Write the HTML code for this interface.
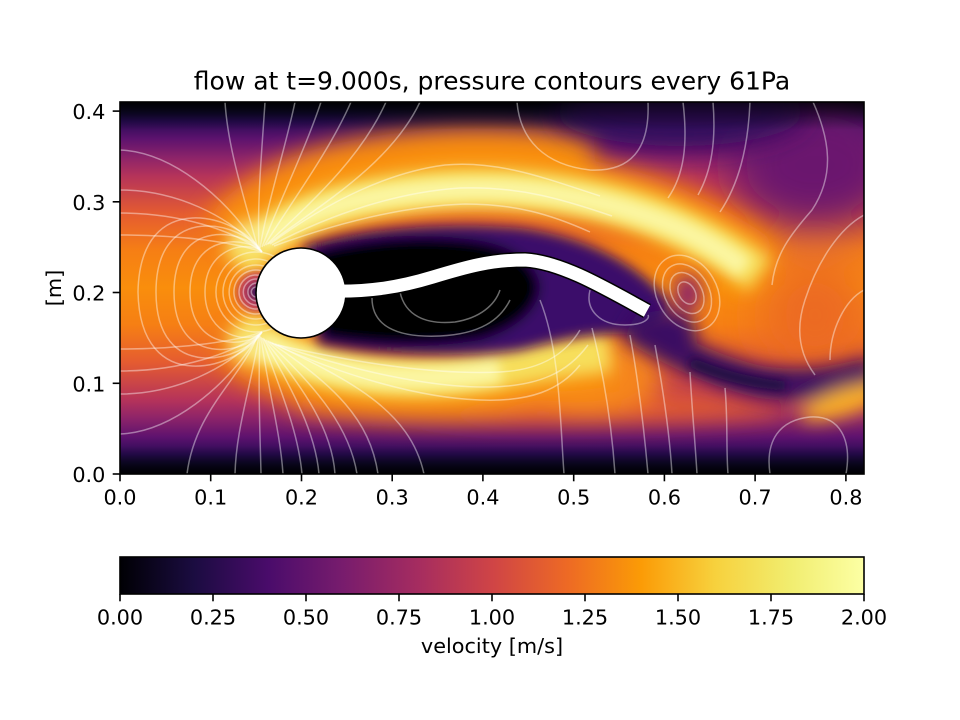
<!DOCTYPE html>
<html><head><meta charset="utf-8">
<style>html,body{margin:0;padding:0;background:#fff}svg{display:block}</style>
</head><body>
<svg xmlns="http://www.w3.org/2000/svg" width="960" height="720" viewBox="0 0 960 720">
<defs>
<clipPath id="ax"><rect x="120" y="102" width="744" height="372"/></clipPath>
<linearGradient id="base" gradientUnits="userSpaceOnUse" x1="0" y1="102" x2="0" y2="474">
<stop offset="0" stop-color="#000004"/>
<stop offset="0.027" stop-color="#110a30"/>
<stop offset="0.051" stop-color="#280b54"/>
<stop offset="0.099" stop-color="#5d126e"/>
<stop offset="0.151" stop-color="#8e2469"/>
<stop offset="0.199" stop-color="#b5335a"/>
<stop offset="0.301" stop-color="#e55c30"/>
<stop offset="0.401" stop-color="#f67f14"/>
<stop offset="0.5" stop-color="#f98e0c"/>
<stop offset="0.599" stop-color="#f67f14"/>
<stop offset="0.699" stop-color="#e55c30"/>
<stop offset="0.801" stop-color="#b5335a"/>
<stop offset="0.849" stop-color="#8e2469"/>
<stop offset="0.901" stop-color="#5d126e"/>
<stop offset="0.949" stop-color="#280b54"/>
<stop offset="0.973" stop-color="#110a30"/>
<stop offset="1" stop-color="#000004"/>
</linearGradient>
<linearGradient id="cb" x1="0" y1="0" x2="1" y2="0">
<stop offset="0" stop-color="#000004"/>
<stop offset="0.1" stop-color="#1b0c41"/>
<stop offset="0.2" stop-color="#4a0c6b"/>
<stop offset="0.3" stop-color="#781c6d"/>
<stop offset="0.4" stop-color="#a52c60"/>
<stop offset="0.5" stop-color="#cf4446"/>
<stop offset="0.6" stop-color="#ed6925"/>
<stop offset="0.7" stop-color="#fb9b06"/>
<stop offset="0.8" stop-color="#f7d13d"/>
<stop offset="0.9" stop-color="#f1ed6f"/>
<stop offset="1" stop-color="#fcffa4"/>
</linearGradient>
<linearGradient id="wt" gradientUnits="userSpaceOnUse" x1="0" y1="102" x2="0" y2="130">
<stop offset="0" stop-color="#000004" stop-opacity="0.7"/>
<stop offset="1" stop-color="#000004" stop-opacity="0"/>
</linearGradient>
<linearGradient id="wb" gradientUnits="userSpaceOnUse" x1="0" y1="474" x2="0" y2="446">
<stop offset="0" stop-color="#000004" stop-opacity="0.7"/>
<stop offset="1" stop-color="#000004" stop-opacity="0"/>
</linearGradient>
<filter id="f22" filterUnits="userSpaceOnUse" x="0" y="0" width="960" height="720"><feGaussianBlur stdDeviation="22"/></filter>
<filter id="f14" filterUnits="userSpaceOnUse" x="0" y="0" width="960" height="720"><feGaussianBlur stdDeviation="14"/></filter>
<filter id="f12" filterUnits="userSpaceOnUse" x="0" y="0" width="960" height="720"><feGaussianBlur stdDeviation="12"/></filter>
<filter id="f9" filterUnits="userSpaceOnUse" x="0" y="0" width="960" height="720"><feGaussianBlur stdDeviation="9"/></filter>
<filter id="f8" filterUnits="userSpaceOnUse" x="0" y="0" width="960" height="720"><feGaussianBlur stdDeviation="8"/></filter>
<filter id="f6" filterUnits="userSpaceOnUse" x="0" y="0" width="960" height="720"><feGaussianBlur stdDeviation="6"/></filter>
<filter id="f5" filterUnits="userSpaceOnUse" x="0" y="0" width="960" height="720"><feGaussianBlur stdDeviation="5"/></filter>
<filter id="f4" filterUnits="userSpaceOnUse" x="0" y="0" width="960" height="720"><feGaussianBlur stdDeviation="4"/></filter>
</defs>
<rect width="960" height="720" fill="#fff"/>

<g clip-path="url(#ax)">
  <rect x="120" y="102" width="744" height="372" fill="url(#base)"/>
  <g filter="url(#f22)">
    <ellipse cx="815" cy="165" rx="85" ry="65" fill="#6a176e"/>
    <ellipse cx="815" cy="315" rx="55" ry="60" fill="#ec6a24"/>
  </g>
  <g filter="url(#f12)">
    <ellipse cx="540" cy="408" rx="250" ry="16" fill="#e8602c"/>
    <ellipse cx="590" cy="375" rx="70" ry="40" fill="#f5851a"/>
    <path transform="translate(0,-18)" d="M 238,265 C 258,238 292,216 340,204 C 395,191 455,186 510,189 C 545,191 570,193 590,196" fill="none" stroke="#f98e0c" stroke-width="84"/>
    <path transform="translate(0,-8)" d="M 560,193 C 610,200 650,212 680,228 C 710,242 735,256 760,275" fill="none" stroke="#f98e0c" stroke-width="58"/>
    <path transform="translate(0,10)" d="M 240,322 C 262,348 300,366 360,374 C 420,381 470,376 510,367 C 545,360 575,356 610,352" fill="none" stroke="#f98e0c" stroke-width="66"/>
  </g>
  <g filter="url(#f14)">
    <ellipse cx="680" cy="112" rx="125" ry="34" fill="#300b5c"/>
  </g>
  <g filter="url(#f8)">
    <path d="M 238,265 C 258,238 292,216 340,204 C 395,191 455,186 510,189 C 575,193 630,205 680,228 C 710,242 735,256 760,275" fill="none" stroke="#f7df5c" stroke-width="40"/>
    <path d="M 240,322 C 262,348 300,366 360,374 C 420,381 470,376 510,367 C 545,360 575,356 610,352" fill="none" stroke="#f7df5c" stroke-width="40"/>
    <ellipse cx="252" cy="236" rx="22" ry="16" fill="#f9e57a"/>
    <ellipse cx="252" cy="348" rx="22" ry="16" fill="#f9e57a"/>
  </g>
  <g filter="url(#f6)" fill="none" stroke="#fbf6a2">
    <path d="M 262,240 C 290,220 320,208 360,200 C 410,191 460,188 510,190 C 575,194 630,207 680,229 C 710,243 728,255 745,268" stroke-width="22"/>
    <path d="M 262,344 C 295,362 340,372 380,376 C 420,379 460,378 500,370" stroke-width="24"/>
  </g>
  <g filter="url(#f6)">
    <path d="M 303,246 C 360,226 450,222 520,228 C 585,236 635,262 668,300 C 674,320 655,336 628,334 C 590,332 560,340 520,350 C 460,358 380,356 318,344 Z" fill="#3b0f6a"/>
    <path d="M 316,250 C 370,236 430,234 475,240 C 515,246 535,262 540,285 C 540,310 515,330 480,340 C 430,348 370,346 322,338 Z" fill="#000004"/>
  </g>
  <g filter="url(#f9)">
    <ellipse cx="665" cy="332" rx="32" ry="22" fill="#3d0a66"/>
    <path d="M 630,325 C 670,350 715,372 760,382 C 800,388 835,384 875,372" fill="none" stroke="#3a0a62" stroke-width="32"/>
    <ellipse cx="688" cy="293" rx="14" ry="19" fill="#8a236a"/>
    <ellipse cx="845" cy="402" rx="48" ry="13" transform="rotate(-18 845 402)" fill="#fbb124"/>
  </g>
  <g filter="url(#f5)">
    <path d="M 690,362 C 720,375 750,383 785,386" fill="none" stroke="#1a0a3c" stroke-width="10"/>
  </g>
  <g filter="url(#f4)">
    <circle cx="257" cy="292" r="20" fill="#c1405a"/>
    <circle cx="257" cy="292" r="9" fill="#2b0a56"/>
  </g>
  <rect x="120" y="102" width="744" height="28" fill="url(#wt)"/>
  <rect x="120" y="446" width="744" height="28" fill="url(#wb)"/>

  <g fill="none" stroke="#ffffff" stroke-opacity="0.42" stroke-width="1.5">
    <path d="M 256.3,287 A 5 5 0 1 0 256.3,297"/>
    <path d="M 256.9,283 A 9 9 0 1 0 256.9,301"/>
    <path d="M 257.9,279.1 A 13 13 0 1 0 257.9,304.9"/>
    <path d="M 259.2,275.3 A 17 17 0 1 0 259.2,308.7"/>
    <path d="M 261.4,270.7 A 22 22 0 1 0 261.4,313.3"/>
    <path d="M 264.1,266.2 A 27 27 0 1 0 264.1,317.8"/>
    <path d="M 268.1,261.3 A 33 33 0 1 0 268.1,322.7"/>
    <path d="M 273.8,256.2 A 40 40 0 1 0 273.8,327.8"/>
    <path d="M 262,252 C 250,240 205,246 205,292 C 205,338 250,344 262,332"/>
    <path d="M 262,252 C 248,236 190,232 190,292 C 190,352 248,348 262,332"/>
    <path d="M 262,252 C 246,230 174,216 174,292 C 174,368 246,354 262,332"/>
    <path d="M 262,252 C 243,222 156,200 156,292 C 156,384 243,362 262,332"/>
    <path d="M 262,252 C 240,215 140,185 138,292 C 140,399 240,369 262,332"/>
    <path d="M 120,150 C 170,152 225,195 259,249"/>
    <path d="M 120,190 C 175,190 228,215 260,250"/>
    <path d="M 120,213 C 180,213 232,230 261,251"/>
    <path d="M 120,235 C 185,235 236,243 262,252"/>
    <path d="M 120,434 C 170,432 225,389 259,335"/>
    <path d="M 120,394 C 175,394 228,369 260,334"/>
    <path d="M 120,371 C 180,371 232,354 261,333"/>
    <path d="M 120,349 C 185,349 236,341 262,332"/>
    <path d="M 258,249 C 245,200 228,150 225,102"/>
    <path d="M 259,249 C 257,200 262,150 265,102"/>
    <path d="M 260,248 C 268,200 285,150 295,102"/>
    <path d="M 262,247 C 280,200 305,150 321,102"/>
    <path d="M 264,246 C 293,200 330,150 351,102"/>
    <path d="M 266,245 C 308,205 360,160 386,102"/>
    <path d="M 268,244 C 320,205 390,165 420,102"/>
    <path d="M 270,244 C 330,200 390,172 445,165 C 500,160 550,180 600,196"/>
    <path d="M 272,245 C 335,212 400,192 460,188 C 520,186 565,200 612,216"/>
    <path d="M 274,246 C 340,222 405,206 465,204 C 515,204 550,214 590,232"/>
    <path d="M 517,102 C 520,140 545,165 590,170 C 630,172 650,150 648,102"/>
    <path d="M 258,335 C 240,380 195,410 187,474"/>
    <path d="M 259,336 C 250,390 236,430 235,474"/>
    <path d="M 260,336 C 258,390 260,430 261,474"/>
    <path d="M 261,337 C 268,390 280,430 283,474"/>
    <path d="M 262,338 C 280,390 298,430 302,474"/>
    <path d="M 263,338 C 292,390 315,430 319,474"/>
    <path d="M 264,339 C 305,390 332,430 335,474"/>
    <path d="M 266,340 C 320,390 350,430 357,474"/>
    <path d="M 268,341 C 335,385 370,420 378,474"/>
    <path d="M 270,342 C 350,380 410,410 424,474"/>
    <path d="M 272,343 C 340,375 420,398 480,400 C 530,402 560,390 580,365"/>
    <path d="M 275,344 C 350,370 430,388 490,387 C 540,386 568,372 588,345"/>
    <path d="M 278,345 C 360,364 440,375 500,372 C 540,370 565,355 580,330"/>
    <path d="M 372,298 C 372,325 395,338 440,336 C 480,334 500,320 510,300"/>
    <path d="M 400,292 C 405,315 425,325 455,322 C 480,318 495,305 500,290"/>
    <path d="M 540,300 C 560,350 560,420 564,474"/>
    <path d="M 592,328 C 605,380 612,430 615,474"/>
    <path d="M 630,335 C 640,390 645,440 648,474"/>
    <path d="M 655,345 C 665,400 670,440 672,474"/>
    <path d="M 690,372 C 692,410 695,440 697,474"/>
    <path d="M 725,388 C 728,420 726,450 728,474"/>
    <ellipse cx="687" cy="293" rx="8" ry="12" transform="rotate(-30 687 293)"/>
    <ellipse cx="687" cy="293" rx="15" ry="22" transform="rotate(-30 687 293)"/>
    <ellipse cx="687" cy="293" rx="22" ry="31" transform="rotate(-30 687 293)"/>
    <ellipse cx="687" cy="293" rx="30" ry="40" transform="rotate(-30 687 293)"/>
    <path d="M 590,290 C 585,310 600,325 625,325 C 645,325 650,318 648,315"/>
    <path d="M 813,102 C 830,140 835,175 812,210 C 790,235 775,255 772,285"/>
    <path d="M 750,102 C 748,150 738,185 720,212"/>
    <path d="M 713,102 C 716,140 712,170 698,195"/>
    <path d="M 683,102 C 688,145 684,175 668,198"/>
    <path d="M 864,215 C 840,228 818,260 805,300 C 795,330 800,355 815,375"/>
    <path d="M 864,290 C 845,300 830,330 830,360"/>
    <path d="M 770,474 C 765,440 780,420 810,417 C 840,415 852,440 846,474"/>
  </g>

  <path d="M 330,291 C 370,292 400,287 433,277 C 466,267 490,260 525,260 C 560,262 600,285 647,311" fill="none" stroke="#000" stroke-width="16"/>
  <circle cx="301" cy="293" r="45.8" fill="#000"/>
  <path d="M 330,291 C 370,292 400,287 433,277 C 466,267 490,260 525,260 C 560,262 600,285 647,311" fill="none" stroke="#fff" stroke-width="13"/>
  <circle cx="301" cy="293" r="44.2" fill="#fff"/>
</g>

<rect x="120" y="102" width="744" height="372" fill="none" stroke="#000" stroke-width="1.6"/>
<g stroke="#000" stroke-width="1.6">
  <line x1="120" y1="474" x2="120" y2="481.3"/>
  <line x1="210.7" y1="474" x2="210.7" y2="481.3"/>
  <line x1="301.5" y1="474" x2="301.5" y2="481.3"/>
  <line x1="392.2" y1="474" x2="392.2" y2="481.3"/>
  <line x1="482.9" y1="474" x2="482.9" y2="481.3"/>
  <line x1="573.7" y1="474" x2="573.7" y2="481.3"/>
  <line x1="664.4" y1="474" x2="664.4" y2="481.3"/>
  <line x1="755.1" y1="474" x2="755.1" y2="481.3"/>
  <line x1="845.9" y1="474" x2="845.9" y2="481.3"/>
  <line x1="112.7" y1="474" x2="120" y2="474"/>
  <line x1="112.7" y1="383.3" x2="120" y2="383.3"/>
  <line x1="112.7" y1="292.5" x2="120" y2="292.5"/>
  <line x1="112.7" y1="201.8" x2="120" y2="201.8"/>
  <line x1="112.7" y1="111.1" x2="120" y2="111.1"/>
</g>
<g font-family="'DejaVu Sans','Liberation Sans',sans-serif" font-size="20.8" fill="#000">
  <g text-anchor="middle">
    <text x="120" y="504.4">0.0</text>
    <text x="210.7" y="504.4">0.1</text>
    <text x="301.5" y="504.4">0.2</text>
    <text x="392.2" y="504.4">0.3</text>
    <text x="482.9" y="504.4">0.4</text>
    <text x="573.7" y="504.4">0.5</text>
    <text x="664.4" y="504.4">0.6</text>
    <text x="755.1" y="504.4">0.7</text>
    <text x="845.9" y="504.4">0.8</text>
  </g>
  <g text-anchor="end">
    <text x="105.4" y="482">0.0</text>
    <text x="105.4" y="391.3">0.1</text>
    <text x="105.4" y="300.5">0.2</text>
    <text x="105.4" y="209.8">0.3</text>
    <text x="105.4" y="119.1">0.4</text>
  </g>
  <text transform="translate(61,288) rotate(-90)" text-anchor="middle">[m]</text>
  <text x="492" y="89.5" text-anchor="middle" font-size="25">flow at t=9.000s, pressure contours every 61Pa</text>

  <rect x="120" y="557" width="744" height="37" fill="url(#cb)" stroke="#000" stroke-width="1.6"/>
  <g stroke="#000" stroke-width="1.6">
    <line x1="120" y1="594" x2="120" y2="601.3"/>
    <line x1="213" y1="594" x2="213" y2="601.3"/>
    <line x1="306" y1="594" x2="306" y2="601.3"/>
    <line x1="399" y1="594" x2="399" y2="601.3"/>
    <line x1="492" y1="594" x2="492" y2="601.3"/>
    <line x1="585" y1="594" x2="585" y2="601.3"/>
    <line x1="678" y1="594" x2="678" y2="601.3"/>
    <line x1="771" y1="594" x2="771" y2="601.3"/>
    <line x1="864" y1="594" x2="864" y2="601.3"/>
  </g>
  <g text-anchor="middle">
    <text x="120" y="624.5">0.00</text>
    <text x="213" y="624.5">0.25</text>
    <text x="306" y="624.5">0.50</text>
    <text x="399" y="624.5">0.75</text>
    <text x="492" y="624.5">1.00</text>
    <text x="585" y="624.5">1.25</text>
    <text x="678" y="624.5">1.50</text>
    <text x="771" y="624.5">1.75</text>
    <text x="864" y="624.5">2.00</text>
  </g>
  <text x="492" y="653" text-anchor="middle">velocity [m/s]</text>
</g>
</svg>
</body></html>
